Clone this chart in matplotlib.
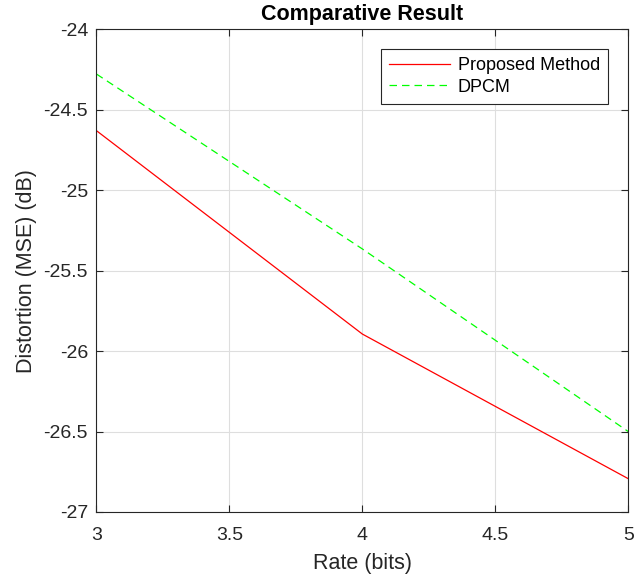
import matplotlib
matplotlib.use('Agg')
import matplotlib.pyplot as plt

# Values
rateBits = [3, 4, 5]
proposedDistortion = [-24.63, -25.894, -26.793]
dpcmDistortion = [-24.278, -25.365, -26.5]

xTicks = [3, 3.5, 4, 4.5, 5]
yTicks = [-27, -26.5, -26, -25.5, -25, -24.5, -24]

plt.rcParams['font.family'] = ['Liberation Sans', 'DejaVu Sans']
plt.rcParams['axes.unicode_minus'] = False

darkGray = (0.15, 0.15, 0.15)

fig = plt.figure(figsize=(6.43, 5.77), dpi=100)
ax = fig.add_axes([0.150, 0.1127, 0.827, 0.8365])

ax.plot(rateBits, proposedDistortion, color=(1, 0, 0), linewidth=0.9, label='Proposed Method')
ax.plot(rateBits, dpcmDistortion, color=(0, 1, 0), linewidth=0.9, linestyle=(0, (6, 4)), label='DPCM')

ax.set_xlim(3, 5)
ax.set_ylim(-27, -24)
ax.set_xticks(xTicks)
ax.set_xticklabels([f'{v:g}' for v in xTicks])
ax.set_yticks(yTicks)
ax.set_yticklabels([f'{v:g}' for v in yTicks])

ax.grid(True, color=(0.87, 0.87, 0.87), linewidth=0.8)
ax.set_axisbelow(True)
for spine in ax.spines.values():
    spine.set_color(darkGray)
    spine.set_linewidth(0.8)
ax.tick_params(direction='in', length=5, width=0.8, colors=darkGray,
               labelsize=14, top=True, right=True)
ax.tick_params(axis='x', pad=11)
ax.tick_params(axis='y', pad=6)

ax.set_title('Comparative Result', fontsize=15.5, fontweight='bold', pad=6.5)
ax.set_xlabel('Rate (bits)', fontsize=15.5, color=darkGray, labelpad=6.5)
ax.set_ylabel('Distortion (MSE) (dB)', fontsize=15.5, color=darkGray, labelpad=4.5)

leg = ax.legend(loc='upper right', bbox_to_anchor=(0.962, 0.959), borderaxespad=0,
                fontsize=13, fancybox=False, framealpha=1, handlelength=3.4,
                handletextpad=0.4, labelspacing=0.25, borderpad=0.45)
leg.get_frame().set_edgecolor(darkGray)
leg.get_frame().set_linewidth(0.8)

fig.savefig('out.png', dpi=100)
